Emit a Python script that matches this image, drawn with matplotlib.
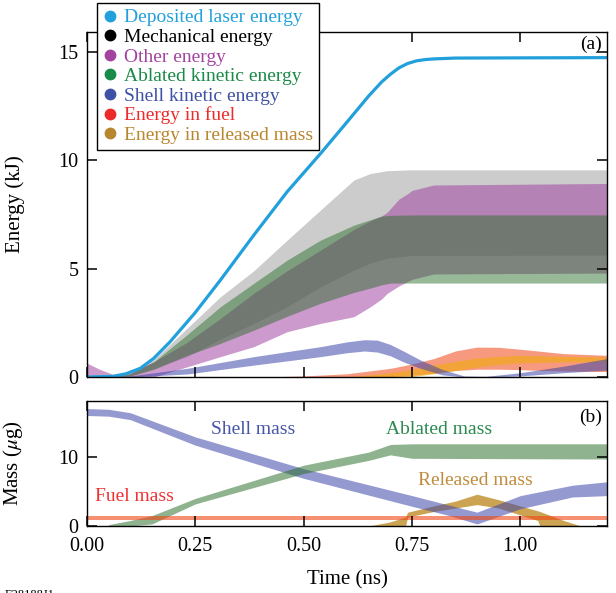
import matplotlib
matplotlib.use("Agg")
import matplotlib.pyplot as plt
from matplotlib.lines import Line2D

plt.rcParams["font.family"] = ["Liberation Serif", "DejaVu Serif"]
plt.rcParams["mathtext.fontset"] = "stix"

# ---- panel (a): energies (kJ) ----
t_laser = [0, 0.06, 0.09, 0.123, 0.154, 0.192, 0.249, 0.308, 0.385, 0.462, 0.539, 0.6, 0.65,
           0.68, 0.7, 0.72, 0.74, 0.76, 0.78, 0.8, 0.85, 1.2]
e_laser = [0, 0.03, 0.15, 0.4, 0.86, 1.63, 2.95, 4.47, 6.54, 8.54, 10.3, 11.75, 12.95,
           13.6, 13.95, 14.25, 14.45, 14.57, 14.63, 14.66, 14.7, 14.72]

t_mech = [0.06, 0.1, 0.154, 0.231, 0.308, 0.385, 0.462, 0.539, 0.616, 0.654, 0.693, 0.75, 1.2]
mech_hi = [0, 0.15, 0.8, 2.25, 3.7, 4.9, 6.31, 7.7, 9.08, 9.38, 9.51, 9.55, 9.55]
mech_lo = [0, 0.05, 0.4, 0.94, 1.75, 2.47, 3.24, 4.16, 4.93, 5.25, 5.48, 5.6, 5.62]

t_other = [0, 0.03, 0.06, 0.1, 0.154, 0.231, 0.308, 0.385, 0.462, 0.539, 0.616, 0.654, 0.68, 0.693, 0.72, 0.74, 0.75, 0.8, 1.2]
other_hi = [0.64, 0.35, 0.12, 0.2, 0.7, 1.6, 2.7, 3.86, 4.9, 5.85, 6.8, 7.2, 7.42, 7.6, 8.2, 8.45, 8.6, 8.85, 8.92]
other_lo = [0, 0, 0, 0, 0, 0.47, 0.94, 1.4, 2.09, 2.47, 2.78, 3.24, 3.6, 3.86, 4.2, 4.4, 4.5, 4.75, 4.79]

t_abl = [0.06, 0.1, 0.154, 0.231, 0.308, 0.385, 0.462, 0.539, 0.616, 0.654, 0.68, 0.7, 0.75, 1.2]
abl_hi = [0, 0.15, 0.7, 1.95, 3.24, 4.32, 5.39, 6.31, 7.0, 7.25, 7.42, 7.45, 7.47, 7.47]
abl_lo = [0, 0.05, 0.35, 1.0, 1.55, 2.16, 2.8, 3.4, 3.9, 4.1, 4.25, 4.33, 4.33, 4.33]

t_shell = [0.05, 0.1, 0.231, 0.385, 0.539, 0.6, 0.64, 0.67, 0.7, 0.73, 0.77, 0.82, 0.87, 0.92, 1.0, 1.1, 1.2]
shell_hi = [0, 0.05, 0.4, 0.94, 1.4, 1.62, 1.72, 1.7, 1.5, 1.2, 0.78, 0.35, 0.05, 0.03, 0.2, 0.5, 0.85]
shell_lo = [0, 0, 0.14, 0.55, 0.94, 1.12, 1.2, 1.15, 0.98, 0.7, 0.4, 0.1, 0, 0, 0.05, 0.2, 0.32]

t_fuel = [0.4, 0.5, 0.6, 0.7, 0.75, 0.8, 0.85, 0.9, 0.95, 1.0, 1.05, 1.1, 1.2]
fuel_hi = [0, 0.05, 0.15, 0.4, 0.6, 0.85, 1.2, 1.38, 1.37, 1.28, 1.18, 1.08, 1.0]
fuel_lo = [0, 0, 0, 0.02, 0.08, 0.18, 0.3, 0.36, 0.36, 0.34, 0.3, 0.28, 0.25]

t_rel = [0.6, 0.7, 0.75, 0.8, 0.85, 0.9, 0.95, 1.0, 1.05, 1.1, 1.2]
rel_hi = [0, 0.2, 0.35, 0.55, 0.72, 0.88, 0.95, 1.0, 0.98, 0.95, 0.93]
rel_lo = [0, 0, 0.02, 0.15, 0.3, 0.46, 0.58, 0.65, 0.68, 0.7, 0.7]

# ---- panel (b): masses (ug) ----
t_smass = [0, 0.05, 0.1, 0.25, 0.5, 0.75, 0.837, 0.9, 0.95, 1.0, 1.12, 1.2]
smass_hi = [17.0, 16.9, 16.4, 12.9, 8.3, 4.4, 3.0, 2.0, 3.2, 4.4, 5.9, 6.4]
smass_lo = [16.0, 15.9, 15.4, 11.7, 6.9, 2.85, 1.5, 0.3, 1.4, 2.5, 4.2, 4.4]

t_amass = [0.05, 0.1, 0.15, 0.25, 0.5, 0.65, 0.7, 0.75, 1.2]
amass_hi = [0.2, 0.8, 1.5, 4.0, 8.8, 10.7, 11.8, 11.9, 11.9]
amass_lo = [0, 0, 0.3, 3.2, 7.6, 9.5, 10.3, 9.8, 9.7]

t_fmass = [0, 1.2]
fmass_hi = [1.4, 1.4]
fmass_lo = [0.82, 0.82]

t_rmass = [0.65, 0.7, 0.735, 0.74, 0.8, 0.85, 0.9, 0.95, 1.0, 1.04, 1.045, 1.1, 1.14]
rmass_hi = [0, 0.6, 1.3, 2.0, 2.9, 3.6, 4.6, 3.8, 2.9, 2.2, 2.1, 0.8, 0]
rmass_lo = [0, 0, 0, 1.3, 2.1, 2.6, 3.1, 2.6, 1.6, 0.8, 0, 0, 0]

legend_labels = ["Deposited laser energy", "Mechanical energy", "Other energy",
                 "Ablated kinetic energy", "Shell kinetic energy", "Energy in fuel",
                 "Energy in released mass"]
legend_colors = ["#22a0dc", "black", "#a3429f", "#1a8a48", "#3d52a4", "#ec2a2a", "#b8862e"]

# band colours (with alpha)
c_mech = "black"
c_other = "#a040a0"
c_abl = "#286e28"
c_shell = "#3c46aa"
c_fuel = "#f04614"
c_rel = "#f0aa14"
c_rmass = "#be8c28"

fig = plt.figure(figsize=(6.16, 5.93), dpi=100)
ax1 = fig.add_axes([0.1412, 0.3642, 0.8442, 0.5818])
ax2 = fig.add_axes([0.1412, 0.1130, 0.8442, 0.2108])

# panel (a)
ax1.fill_between(t_mech, mech_lo, mech_hi, color=c_mech, alpha=0.2, lw=0)
ax1.fill_between(t_other, other_lo, other_hi, color=c_other, alpha=0.53, lw=0)
ax1.fill_between(t_abl, abl_lo, abl_hi, color=c_abl, alpha=0.48, lw=0)
ax1.fill_between(t_fuel, fuel_lo, fuel_hi, color=c_fuel, alpha=0.55, lw=0)
ax1.fill_between(t_rel, rel_lo, rel_hi, color=c_rel, alpha=0.65, lw=0)
ax1.fill_between(t_shell, shell_lo, shell_hi, color=c_shell, alpha=0.55, lw=0)
ax1.plot(t_laser, e_laser, color="#22a0dc", lw=2.3)

ax1.set_xlim(0, 1.2)
ax1.set_ylim(0, 15.9)
ax1.set_yticks([0, 5, 10, 15])
ax1.set_xticks([0, 0.25, 0.5, 0.75, 1.0])
ax1.set_xticklabels([])
ax1.set_ylabel("Energy (kJ)", fontsize=15)
ax1.text(0.99, 0.988, "(a)", transform=ax1.transAxes, ha="right", va="top", fontsize=14)

handles = [Line2D([], [], marker="o", linestyle="none", color=c, markersize=7.5) for c in legend_colors]
leg = ax1.legend(handles, legend_labels, loc="upper left",
                 bbox_to_anchor=(97 / 616, 1 - 3 / 593), bbox_transform=fig.transFigure,
                 fancybox=False, edgecolor="black", framealpha=1, fontsize=14,
                 borderpad=0.3, labelspacing=0.1, handlelength=0.7, handletextpad=0.4,
                 borderaxespad=0, labelcolor=legend_colors)
leg.get_frame().set_linewidth(1.0)

# panel (b)
ax2.fill_between(t_rmass, rmass_lo, rmass_hi, color=c_rmass, alpha=0.8, lw=0)
ax2.fill_between(t_smass, smass_lo, smass_hi, color=c_shell, alpha=0.55, lw=0)
ax2.fill_between(t_amass, amass_lo, amass_hi, color=c_abl, alpha=0.52, lw=0)
ax2.fill_between(t_fmass, fmass_lo, fmass_hi, color=c_fuel, alpha=0.6, lw=0)

ax2.set_xlim(0, 1.2)
ax2.set_ylim(0, 18.1)
ax2.set_yticks([0, 10])
ax2.set_xticks([0, 0.25, 0.5, 0.75, 1.0])
ax2.set_xticklabels(["0.00", "0.25", "0.50", "0.75", "1.00"])
ax2.set_xlabel("Time (ns)", fontsize=15, labelpad=10)
ax2.set_ylabel(r"Mass ($\mu$g)", fontsize=15)
ax2.text(0.99, 0.94, "(b)", transform=ax2.transAxes, ha="right", va="top", fontsize=14)

ax2.text(0.384, 13.9, "Shell mass", color="#4656aa", fontsize=14, ha="center", va="center")
ax2.text(0.813, 13.9, "Ablated mass", color="#2a8a50", fontsize=14, ha="center", va="center")
ax2.text(0.896, 6.6, "Released mass", color="#be8c3c", fontsize=14, ha="center", va="center")
ax2.text(0.11, 4.2, "Fuel mass", color="#ec3232", fontsize=14, ha="center", va="center")

for ax in (ax1, ax2):
    ax.tick_params(direction="in", top=True, right=True, length=7.2, width=1.1,
                   labelsize=14.5, pad=6)
    ax.tick_params(axis="x", pad=8)
    for s in ax.spines.values():
        s.set_linewidth(1.0)
    ax.yaxis.set_label_coords(-0.119, 0.5)

fig.text(5 / 616, 1 - 589 / 593, "E28188J1", fontsize=9, ha="left", va="top")

fig.savefig("out.png", dpi=100)
